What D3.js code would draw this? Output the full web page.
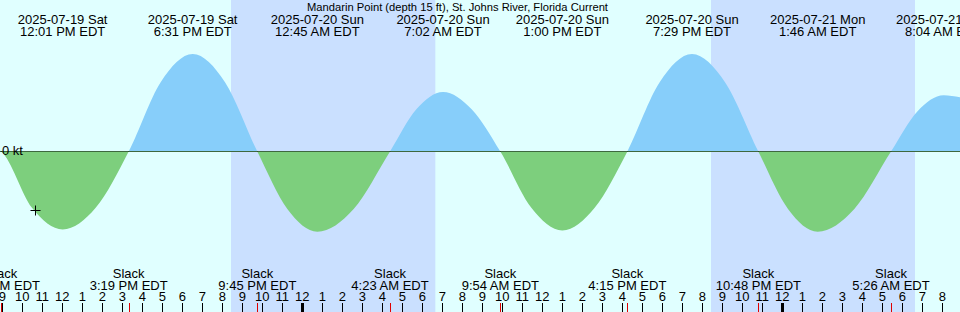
<!DOCTYPE html>
<html>
<head>
<meta charset="utf-8">
<script src="https://cdn.jsdelivr.net/npm/d3@7"></script>
<style>
  body { margin: 0; background: #e0ffff; }
  svg { display: block; font-family: "Liberation Sans", Arial, sans-serif; }
</style>
</head>
<body>
<svg></svg>
<script>
// ================= DONNÉES =================== //
// heures locales EDT, traitées comme UTC pour ne pas dépendre du fuseau
const title = "Mandarin Point (depth 15 ft), St. Johns River, Florida Current";

// maxima de courant (flot / jusant) -> libellés du haut
const extremaTimes = ["2025-07-19 12:01", "2025-07-19 18:31", "2025-07-20 00:45", "2025-07-20 07:02",
                      "2025-07-20 13:00", "2025-07-20 19:29", "2025-07-21 01:46", "2025-07-21 08:04"];
const extremaDates = ["2025-07-19 Sat", "2025-07-19 Sat", "2025-07-20 Sun", "2025-07-20 Sun",
                      "2025-07-20 Sun", "2025-07-20 Sun", "2025-07-21 Mon", "2025-07-21 Mon"];
const extremaLabels = ["12:01 PM EDT", "6:31 PM EDT", "12:45 AM EDT", "7:02 AM EDT",
                       "1:00 PM EDT", "7:29 PM EDT", "1:46 AM EDT", "8:04 AM EDT"];

// étales -> libellés du bas + ticks rouges
const slackTimes = ["2025-07-19 08:57", "2025-07-19 15:19", "2025-07-19 21:45", "2025-07-20 04:23",
                    "2025-07-20 09:54", "2025-07-20 16:15", "2025-07-20 22:48", "2025-07-21 05:26"];
const slackLabels = ["8:57 AM EDT", "3:19 PM EDT", "9:45 PM EDT", "4:23 AM EDT",
                     "9:54 AM EDT", "4:15 PM EDT", "10:48 PM EDT", "5:26 AM EDT"];

// lectures de la courbe (kt)
const curveTimes = [
  "2025-07-19 08:53", "2025-07-19 08:57", "2025-07-19 10:29", "2025-07-19 12:01", "2025-07-19 13:40",
  "2025-07-19 15:19", "2025-07-19 16:55", "2025-07-19 18:31", "2025-07-19 20:08", "2025-07-19 21:45",
  "2025-07-19 23:15", "2025-07-20 00:45", "2025-07-20 02:34", "2025-07-20 04:23", "2025-07-20 05:42",
  "2025-07-20 07:02", "2025-07-20 08:28", "2025-07-20 09:54", "2025-07-20 11:27", "2025-07-20 13:00",
  "2025-07-20 14:37", "2025-07-20 16:15", "2025-07-20 17:52", "2025-07-20 19:29", "2025-07-20 21:08",
  "2025-07-20 22:48", "2025-07-21 00:17", "2025-07-21 01:46", "2025-07-21 03:36", "2025-07-21 05:26",
  "2025-07-21 06:45", "2025-07-21 08:04", "2025-07-21 08:53"];
const curveValues = [
  0.01, 0, -0.52, -0.72, -0.52,
  0, 0.64, 0.90, 0.64, 0,
  -0.53, -0.74, -0.53, 0, 0.39,
  0.55, 0.39, 0, -0.52, -0.73,
  -0.52, 0, 0.64, 0.90, 0.64,
  0, -0.53, -0.74, -0.53, 0,
  0.37, 0.52, 0.50];

// nuits (coucher -> lever du soleil)
const nightStarts = ["2025-07-19 20:26", "2025-07-20 20:26"];
const nightEnds = ["2025-07-20 06:39", "2025-07-21 06:38"];

// repère "+" (instant courant)
const markTime = "2025-07-19 10:37";
const markValue = -0.54;

const startTime = "2025-07-19 08:53";
const endTime = "2025-07-21 08:53";

// ================= CONSTANTES =================== //
const width = 960;
const height = 312;
const parse = d3.utcParse("%Y-%m-%d %H:%M");

const svg = d3.select("svg").attr("width", width).attr("height", height);

const x = d3.scaleUtc()
  .domain([parse(startTime), parse(endTime)])
  .range([0, width]);

// 0 kt sur la ligne de pixels 151
const y = d3.scaleLinear()
  .domain([-1, 1])
  .range([151.5 + 108.3, 151.5 - 108.3]);

const zeroY = y(0);
const readings = curveTimes.map((t, i) => ({ t: parse(t), v: curveValues[i] }));

// ================= FOND =================== //
svg.append("rect").attr("width", width).attr("height", height).attr("fill", "#e0ffff");

svg.selectAll(".night")
  .data(nightStarts)
  .enter().append("rect")
  .attr("class", "night")
  .attr("x", (d) => x(parse(d)))
  .attr("width", (d, i) => x(parse(nightEnds[i])) - x(parse(d)))
  .attr("y", 0)
  .attr("height", height)
  .attr("fill", "#cae0ff");

// ================= COURBE =================== //
const defs = svg.append("defs");
defs.append("clipPath").attr("id", "clip-flood")
  .append("rect").attr("x", 0).attr("y", 0).attr("width", width).attr("height", 151);
defs.append("clipPath").attr("id", "clip-ebb")
  .append("rect").attr("x", 0).attr("y", 151).attr("width", width).attr("height", height);

const area = d3.area()
  .x((d) => x(d.t))
  .y0(zeroY)
  .y1((d) => y(d.v))
  .curve(d3.curveMonotoneX);

svg.append("path")
  .datum(readings)
  .attr("d", area)
  .attr("fill", "#87cefa")
  .attr("clip-path", "url(#clip-flood)");

// ligne 0 kt
svg.append("line")
  .attr("x1", 0).attr("x2", width)
  .attr("y1", zeroY).attr("y2", zeroY)
  .attr("stroke", "#000")
  .attr("stroke-width", 1);

svg.append("path")
  .datum(readings)
  .attr("d", area)
  .attr("fill", "#7dcf7d")
  .attr("clip-path", "url(#clip-ebb)");

svg.append("text")
  .attr("x", 2).attr("y", 155)
  .attr("font-size", 13)
  .text("0 kt");

// repère +
const mx = Math.round(x(parse(markTime))) + 0.5;
const my = Math.round(y(markValue)) + 0.5;
svg.append("path")
  .attr("d", `M${mx - 5},${my}H${mx + 5}M${mx},${my - 5}V${my + 5}`)
  .attr("stroke", "#000")
  .attr("stroke-width", 1);

// ================= TEXTES HAUT =================== //
svg.append("text")
  .attr("x", 307).attr("y", 10.5)
  .attr("font-size", 11.2)
  .text(title);

const topLabels = svg.selectAll(".extremum")
  .data(extremaTimes)
  .enter().append("g")
  .attr("class", "extremum")
  .attr("transform", (d) => `translate(${x(parse(d))},0)`)
  .attr("text-anchor", "middle")
  .attr("font-size", 13);

topLabels.append("text").attr("y", 23.5).text((d, i) => extremaDates[i]);
topLabels.append("text").attr("y", 36).text((d, i) => extremaLabels[i]);

// ================= TEXTES BAS =================== //
const bottomLabels = svg.selectAll(".slack")
  .data(slackTimes)
  .enter().append("g")
  .attr("class", "slack")
  .attr("transform", (d) => `translate(${x(parse(d))},0)`)
  .attr("text-anchor", "middle")
  .attr("font-size", 13);

bottomLabels.append("text").attr("y", 277.5).text("Slack");
bottomLabels.append("text").attr("y", 289.5).text((d, i) => slackLabels[i]);

// axe des heures
const hours = x.ticks(d3.utcHour.every(1));
const hourFmt = d3.utcFormat("%-I");

svg.selectAll(".hour-label")
  .data(hours)
  .enter().append("text")
  .attr("class", "hour-label")
  .attr("x", (d) => x(d))
  .attr("y", 300.5)
  .attr("text-anchor", "middle")
  .attr("font-size", 13)
  .text((d) => hourFmt(d));

svg.selectAll(".hour-tick")
  .data(hours)
  .enter().append("rect")
  .attr("class", "hour-tick")
  .attr("x", (d) => d.getUTCHours() === 0 ? Math.round(x(d)) - 1 : Math.round(x(d)))
  .attr("width", (d) => d.getUTCHours() === 0 ? 3 : 1)
  .attr("y", 303)
  .attr("height", 9)
  .attr("fill", "#000");

svg.selectAll(".slack-tick")
  .data(slackTimes)
  .enter().append("rect")
  .attr("class", "slack-tick")
  .attr("x", (d) => Math.round(x(parse(d))))
  .attr("width", 1)
  .attr("y", 303)
  .attr("height", 9)
  .attr("fill", "#e00000");
</script>
</body>
</html>
